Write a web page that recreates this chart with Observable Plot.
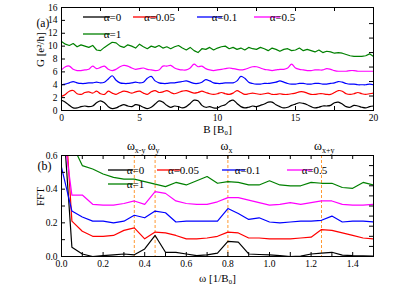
<!DOCTYPE html>
<html><head><meta charset="utf-8">
<script src="https://cdn.jsdelivr.net/npm/d3@7"></script>
<script src="https://cdn.jsdelivr.net/npm/@observablehq/plot@0.6"></script>
<style>body{margin:0;background:#fff} #chart svg{display:block}</style>
</head><body><div id="chart"></div>
<script>
// ---------- data ----------
const labels = ["α=0", "α=0.05", "α=0.1", "α=0.5", "α=1"];
const colors = ["#000000", "#ff0000", "#0000ff", "#ff00ff", "#008000"];

// panel (a): conductance G vs B, sampled every 0.25 B0
const B = d3.range(81).map(i => i * 0.25);
const G0 = [1.6,1.3,0.8,0.4,0.4,0.6,0.7,0.6,0.7,1.2,1.5,1.2,0.6,0.3,0.4,0.7,0.9,0.7,0.6,0.9,0.8,0.5,0.3,0.5,1.0,1.5,1.3,0.8,0.5,0.7,0.6,0.4,0.6,1.1,1.6,1.5,0.8,0.5,0.6,0.4,0.4,0.7,0.9,1.4,1.6,1.1,0.6,0.4,0.5,0.7,0.6,0.8,1.0,1.3,1.3,0.9,0.6,0.4,0.5,0.8,1.0,1.2,1.1,0.9,0.6,0.4,0.5,0.7,0.7,0.8,1.2,1.3,1.0,0.6,0.5,0.8,0.7,0.5,0.4,0.6,0.7];
const G005 = [2.2,2.5,3.0,3.1,2.6,2.5,2.8,2.9,2.7,3.0,2.6,2.5,3.0,2.7,2.5,2.8,3.0,2.9,2.7,2.9,3.0,2.7,2.5,2.9,3.1,2.8,2.9,3.1,2.8,2.6,2.8,3.0,3.1,2.9,2.7,2.8,3.0,2.8,2.6,2.5,2.6,2.8,2.6,2.5,2.7,3.1,2.8,2.5,2.6,2.7,2.6,2.5,2.6,2.7,2.5,2.5,2.6,2.5,2.5,2.6,2.7,2.9,2.9,2.7,2.5,2.5,2.6,2.6,2.5,2.5,2.8,3.1,3.0,2.6,2.5,2.6,2.8,2.6,2.5,2.6,2.7];
const G01 = [4.0,4.1,4.3,4.5,4.3,4.2,4.2,4.3,4.3,4.4,4.3,4.4,4.9,5.4,4.7,4.3,4.2,4.2,4.3,4.4,4.3,4.4,5.0,5.3,4.6,4.3,4.2,4.2,4.3,4.3,4.4,4.5,4.6,4.4,4.2,4.2,4.4,4.8,4.6,4.3,4.2,4.2,4.3,4.3,4.3,4.6,5.3,5.0,4.4,4.2,4.1,4.1,4.2,4.2,4.3,4.4,4.6,4.4,4.2,4.1,4.1,4.2,4.2,4.1,4.1,4.2,4.2,4.1,4.1,4.2,4.3,4.5,4.4,4.2,4.1,4.1,4.0,4.0,4.0,4.1,4.0];
const G05 = [6.3,6.8,6.9,6.4,6.2,6.2,6.3,6.4,6.9,6.5,6.7,6.9,6.4,6.2,6.4,6.8,7.0,6.9,6.6,6.4,6.5,6.6,6.4,6.3,6.2,6.3,6.9,6.9,7.0,6.6,6.4,6.3,6.3,6.6,7.2,6.8,6.9,6.5,6.3,6.2,6.3,6.4,6.5,6.6,6.5,6.4,6.3,6.4,6.6,6.8,6.8,6.6,6.4,6.3,6.2,6.3,6.4,6.4,6.6,7.2,6.6,6.4,6.3,6.2,6.2,6.3,6.3,6.3,6.5,6.4,6.2,6.1,6.1,6.1,6.2,6.2,6.1,6.1,6.1,6.1,6.1];
const G1 = [10.7,10.3,10.1,10.4,9.9,10.2,10.0,9.8,10.1,9.4,9.3,9.8,10.2,10.6,10.5,10.0,9.8,10.2,10.0,9.7,10.3,9.9,9.6,10.0,9.8,10.1,9.7,9.9,9.6,9.9,10.1,9.7,9.4,9.8,9.3,9.0,9.6,9.5,9.8,9.4,9.7,9.9,10.0,9.6,9.8,9.5,9.7,9.4,9.8,9.6,9.5,9.8,9.6,9.3,9.7,9.5,9.2,9.5,9.6,9.3,9.4,9.7,9.3,9.5,9.3,9.1,9.4,9.0,9.2,9.1,8.9,9.0,8.9,8.7,8.5,8.4,8.4,8.4,8.5,8.8,8.4];
const seriesA = [G0, G005, G01, G05, G1];

// panel (b): FFT vs omega, sampled every 0.05 (1/B0)
const W = d3.range(31).map(i => i * 0.05);
const F0 = [0.96,0.055,0.015,0.0,0.005,0.01,0.015,0.01,0.045,0.125,0.025,0.025,0.015,0.005,0.01,0.02,0.09,0.085,0.015,0.012,0.01,0.005,0.0,0.002,0.015,0.02,0.025,0.008,0.005,0.004,0.002];
const F005 = [1.19,0.21,0.15,0.12,0.12,0.125,0.155,0.17,0.105,0.145,0.14,0.125,0.105,0.105,0.11,0.12,0.145,0.14,0.11,0.11,0.105,0.105,0.105,0.11,0.115,0.16,0.155,0.14,0.125,0.11,0.105];
const F01 = [0.53,0.27,0.235,0.21,0.21,0.2,0.21,0.245,0.23,0.27,0.26,0.205,0.21,0.21,0.21,0.21,0.285,0.255,0.22,0.23,0.205,0.2,0.205,0.21,0.21,0.215,0.24,0.205,0.21,0.21,0.205];
const F05 = [0.835,0.365,0.365,0.31,0.305,0.305,0.315,0.33,0.31,0.385,0.375,0.33,0.315,0.31,0.31,0.325,0.35,0.35,0.335,0.32,0.305,0.31,0.32,0.31,0.32,0.33,0.33,0.31,0.305,0.305,0.31];
const F1 = [1.0,0.67,0.54,0.52,0.49,0.47,0.46,0.46,0.445,0.43,0.415,0.44,0.425,0.45,0.475,0.435,0.445,0.44,0.425,0.425,0.45,0.425,0.42,0.42,0.44,0.435,0.435,0.41,0.405,0.44,0.425];
const seriesB = [F0, F005, F01, F05, F1];

// characteristic frequencies
const peakW = [0.35, 0.45, 0.8, 1.25];
const peakSub = ["x-y", "y", "x", "x+y"];

// tick values
const xTicksA = [0, 5, 10, 15, 20];
const xMinorA = d3.range(9).map(i => i * 2.5);
const yTicksA = [0, 2, 4, 6, 8, 10, 12, 14, 16];
const yRightA = [2.25, 4.5, 6.75, 9, 11.25, 13.5];
const xTicksB = [0, 0.2, 0.4, 0.6, 0.8, 1.0, 1.2, 1.4];
const xMinorB = d3.range(16).map(i => i * 0.1);
const yTicksB = [0, 0.2, 0.4, 0.6];
const yMinorB = [0, 0.1, 0.2, 0.3, 0.4, 0.5, 0.6];
const yRightB = [0.06, 0.12, 0.18, 0.24, 0.3, 0.36, 0.42, 0.48, 0.54];

// ---------- drawing ----------
const FONT = "'Liberation Serif', 'Times New Roman', serif";
const WIDTH = 415, ML = 61, MR = 42;
const fw = WIDTH - ML - MR;

function addLegend(svg, rows) {
  const g = d3.select(svg).append("g").attr("font-family", FONT).attr("font-size", 11);
  rows.forEach(r => {
    g.append("line").attr("x1", r.x1).attr("x2", r.x2).attr("y1", r.y).attr("y2", r.y)
      .attr("stroke", colors[r.i]).attr("stroke-width", 1.3);
    g.append("text").attr("x", r.x2 + 2.5).attr("y", r.y + 3.8).attr("fill", "black").text(labels[r.i]);
  });
}

// panel (a)
const hA = 138, mtA = 7, mbA = 28, fhA = hA - mtA - mbA;
const kyA = 16 * 4 / fhA, kxA = 20 * 4 / fw;
const plotA = Plot.plot({
  width: WIDTH, height: hA, marginLeft: ML, marginRight: MR, marginTop: mtA, marginBottom: mbA,
  style: {fontFamily: FONT, fontSize: "9.5px", background: "white", color: "black", overflow: "visible"},
  x: {domain: [0, 20], ticks: xTicksA, tickSize: 0, tickPadding: 4, label: null},
  y: {domain: [0, 16], ticks: yTicksA, tickSize: 0, tickPadding: 4, label: null},
  marks: [
    ...seriesA.map((vals, i) => Plot.line(vals, {x: (d, j) => B[j], y: d => d, stroke: colors[i], strokeWidth: 1.2, curve: i === 4 ? "linear" : "catmull-rom"})),
    Plot.ruleX(xMinorA, {x: d => d, y1: 0, y2: kyA, stroke: "black"}),
    Plot.ruleX(xMinorA, {x: d => d, y1: 16, y2: 16 - kyA, stroke: "black"}),
    Plot.ruleY(yTicksA, {y: d => d, x1: 0, x2: kxA, stroke: "black"}),
    Plot.ruleY(yRightA, {y: d => d, x1: 20, x2: 20 - kxA, stroke: "black"}),
    Plot.frame({stroke: "black", strokeWidth: 1}),
    Plot.text(["B [B₀]"], {text: d => d, frameAnchor: "bottom", lineAnchor: "bottom", dy: 22, fontSize: 11}),
    Plot.text(["G [e²/h]"], {text: d => d, frameAnchor: "left", rotate: -90, lineAnchor: "middle", dx: -21, dy: 8, fontSize: 11}),
    Plot.text(["(a)"], {text: d => d, frameAnchor: "top-left", lineAnchor: "bottom", dx: -25, dy: 19, fontSize: 11.5})
  ]
});
addLegend(plotA, [
  {i: 0, x1: 83, x2: 110, y: 17}, {i: 1, x1: 133, x2: 157, y: 17},
  {i: 2, x1: 197, x2: 222, y: 17}, {i: 3, x1: 254, x2: 280, y: 17},
  {i: 4, x1: 83, x2: 110, y: 34}
]);

// panel (b)
const hB = 153, mtB = 17, mbB = 35, fhB = hB - mtB - mbB;
const kyB = 0.6 * 4 / fhB, kxB = 1.5 * 4 / fw;
const plotB = Plot.plot({
  width: WIDTH, height: hB, marginLeft: ML, marginRight: MR, marginTop: mtB, marginBottom: mbB,
  style: {fontFamily: FONT, fontSize: "9.5px", background: "white", color: "black", overflow: "visible"},
  x: {domain: [0, 1.5], ticks: xTicksB, tickFormat: d3.format(".1f"), tickSize: 0, tickPadding: 4, label: null},
  y: {domain: [0, 0.6], ticks: yTicksB, tickFormat: d3.format(".1f"), tickSize: 0, tickPadding: 4, label: null},
  marks: [
    Plot.ruleX(peakW, {x: d => d, stroke: "#ff9933", strokeWidth: 1, strokeDasharray: "3,2"}),
    ...seriesB.map((vals, i) => Plot.line(vals, {x: (d, j) => W[j], y: d => d, stroke: colors[i], strokeWidth: 1.2, clip: true})),
    Plot.ruleX(xMinorB, {x: d => d, y1: 0, y2: kyB, stroke: "black"}),
    Plot.ruleX(xMinorB, {x: d => d, y1: 0.6, y2: 0.6 - kyB, stroke: "black"}),
    Plot.ruleY(yMinorB, {y: d => d, x1: 0, x2: kxB, stroke: "black"}),
    Plot.ruleY(yRightB, {y: d => d, x1: 1.5, x2: 1.5 - kxB, stroke: "black"}),
    Plot.frame({stroke: "black", strokeWidth: 1}),
    Plot.text(peakW, {x: d => d, text: () => "ω", frameAnchor: "top", lineAnchor: "bottom", textAnchor: "end", dx: 0.5, dy: -6, fontSize: 12}),
    Plot.text(peakW, {x: d => d, text: (d, i) => peakSub[i], frameAnchor: "top", lineAnchor: "bottom", textAnchor: "start", dx: 0.5, dy: -3, fontSize: 8}),
    Plot.text(["ω [1/B₀]"], {text: d => d, frameAnchor: "bottom", lineAnchor: "bottom", dy: 25, fontSize: 11}),
    Plot.text(["FFT"], {text: d => d, frameAnchor: "left", rotate: -90, lineAnchor: "middle", dx: -21, dy: 0, fontSize: 11}),
    Plot.text(["(b)"], {text: d => d, frameAnchor: "top-left", lineAnchor: "bottom", dx: -24, dy: 14, fontSize: 12})
  ]
});
addLegend(plotB, [
  {i: 0, x1: 108, x2: 133, y: 32}, {i: 1, x1: 157, x2: 181, y: 32},
  {i: 2, x1: 222, x2: 245, y: 32}, {i: 3, x1: 287, x2: 312, y: 32},
  {i: 4, x1: 108, x2: 133, y: 46}
]);

const chart = document.getElementById("chart");
chart.appendChild(plotA);
chart.appendChild(plotB);
</script>
</body></html>
